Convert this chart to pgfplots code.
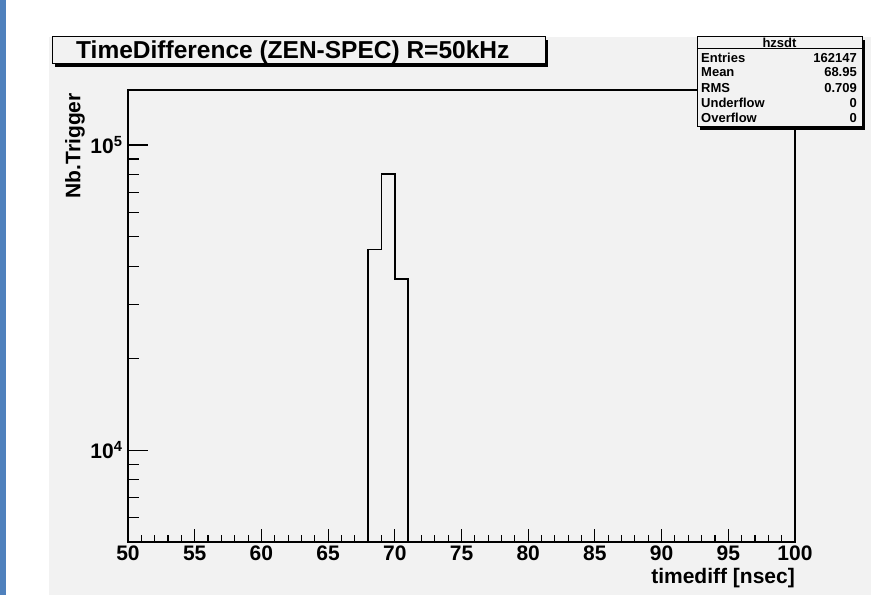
\documentclass[border=0pt]{standalone}
\usepackage{fontspec}
\setmainfont{Liberation Sans}
\usepackage{pgfplots}
\pgfplotsset{compat=1.18}
\definecolor{bgray}{RGB}{242,242,242}
\definecolor{sideblue}{RGB}{79,129,189}
\newcommand{\lbl}{\fontsize{21}{23}\selectfont\bfseries}
\newcommand{\stat}{\fontsize{13}{15}\selectfont\bfseries}
\begin{document}
\begin{tikzpicture}[x=1pt,y=1pt]
\fill[white] (0,0) rectangle (871,595);
\fill[sideblue] (0,0) rectangle (6,595);
\fill[bgray] (49,0) rectangle (871,558);
\begin{axis}[
  at={(128pt,53pt)}, anchor=south west,
  scale only axis, width=667pt, height=452pt,
  xmin=50, xmax=100, ymin=5000, ymax=151500, ymode=log,
  axis line style={line width=1.6pt},
  xtick={50,55,...,100},
  xticklabels={50,55,60,65,70,75,80,85,90,95,100},
  minor x tick num=4,
  xtick pos=bottom, tick align=inside,
  major tick length=13pt, minor tick length=6.5pt,
  every tick/.style={black, line width=1.1pt},
  ytick=\empty, yminorticks=false,
  typeset ticklabels with strut,
  xticklabel style={font=\lbl, yshift=0pt, inner sep=2pt},
  xlabel={timediff [nsec]},
  xlabel style={font=\lbl, at={(axis description cs:1,0)}, anchor=north east, yshift=-26pt, inner sep=0pt},
]
\addplot[black, line width=1.6pt] coordinates {
 (68,5000) (68,45500) (69,45500) (69,80300) (70,80300) (70,36350) (71,36350) (71,5000)};
\end{axis}
\begin{axis}[
  at={(128pt,53pt)}, anchor=south west,
  scale only axis, width=667pt, height=452pt,
  xmin=50, xmax=100, ymin=5000, ymax=151500, ymode=log,
  axis line style={draw=none},
  xtick=\empty,
  ytick={10000,100000},
  yticklabels={10\textsuperscript{4},10\textsuperscript{5}},
  minor ytick={6000,7000,8000,9000,20000,30000,40000,50000,60000,70000,80000,90000},
  ytick pos=left, tick align=inside,
  major tick length=20pt, minor tick length=11pt,
  every tick/.style={black, line width=1.1pt},
  yticklabel style={font=\lbl, xshift=-2pt},
]
\end{axis}
\node[rotate=90, anchor=east, font=\lbl, inner sep=0pt] at (75,502) {Nb.Trigger};
% title box
\fill[black] (55,528) rectangle (548,555);
\filldraw[fill=bgray, draw=black, line width=1pt] (52,531) rectangle (545,558);
\node[anchor=base west, inner sep=0pt, font=\fontsize{24.5}{27}\selectfont\bfseries] at (76,536) {TimeDifference (ZEN-SPEC) R=50kHz};
% stats box
\fill[black] (700,465) rectangle (865,555);
\filldraw[fill=bgray, draw=black, line width=1pt] (697,468) rectangle (862,558);
\draw[black, line width=1pt] (697,546) -- (862,546);
\node[font=\stat, inner sep=0pt] at (779.5,552) {hzsdt};
\foreach \y/\a/\b in {532/Entries/162147, 518/Mean/68.95, 502/RMS/0.709, 487/Underflow/0, 472/Overflow/0}{
  \node[anchor=base west, font=\stat, inner sep=0pt] at (701,\y) {\a};
  \node[anchor=base east, font=\stat, inner sep=0pt] at (857,\y) {\b};
}
\end{tikzpicture}
\end{document}
